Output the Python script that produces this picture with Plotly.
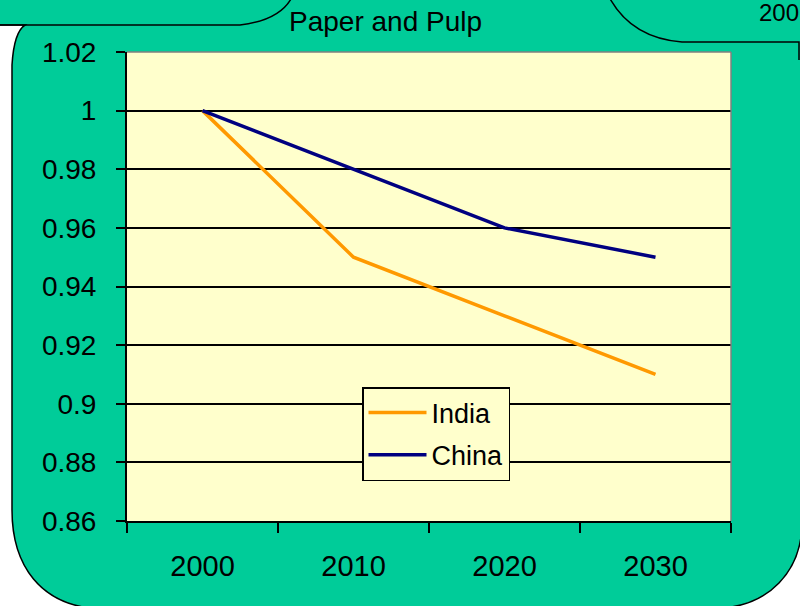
import plotly.graph_objects as go

years = ["2000", "2010", "2020", "2030"]
india = [1.0, 0.95, 0.93, 0.91]
china = [1.0, 0.98, 0.96, 0.95]
y_ticks = [0.86, 0.88, 0.90, 0.92, 0.94, 0.96, 0.98, 1.00, 1.02]
y_tick_text = ["0.86", "0.88", "0.9", "0.92", "0.94", "0.96", "0.98", "1", "1.02"]

W, H = 800, 606
L, R, T, B = 127, 731, 52, 521
PW, PH = R - L, B - T

def px(x):
    return (x - L) / PW

def py(y):
    return (B - y) / PH

def P(x, y):
    return f"{px(x):.5f},{py(y):.5f}"

TEAL = "#00CC99"
FONT = "Liberation Sans, Arial, sans-serif"

fig = go.Figure()
fig.add_trace(go.Scatter(x=years, y=india, mode="lines", name="India",
                         line=dict(color="#FF9900", width=3.5), legendgroup="a"))
fig.add_trace(go.Scatter(x=years, y=china, mode="lines", name="China",
                         line=dict(color="#000080", width=3.5), legendgroup="b"))

shapes = []
# top-left / left / bottom-left white region
path_left = (f"M {P(-10,25)} L {P(25,25)} Q {P(14,32)} {P(12,65)} L {P(12,510)} "
             f"C {P(12,565)} {P(40,606)} {P(100,609)} L {P(100,620)} L {P(-10,620)} Z")
shapes.append(dict(type="path", path=path_left, xref="paper", yref="paper",
                   fillcolor="white", line=dict(color="black", width=1.5), layer="below"))
# bottom-right white region
path_br = (f"M {P(802,522)} C {P(802,572)} {P(768,606)} {P(720,608)} "
           f"L {P(720,620)} L {P(815,620)} L {P(815,522)} Z")
shapes.append(dict(type="path", path=path_br, xref="paper", yref="paper",
                   fillcolor="white", line=dict(color="black", width=1.5), layer="below"))
# title tab outline
path_tab = f"M {P(-10,25)} L {P(240,25)} Q {P(282,20)} {P(293,-5)}"
shapes.append(dict(type="path", path=path_tab, xref="paper", yref="paper",
                   line=dict(color="black", width=1.5), layer="below"))
# neighbouring panel outline
path_nb = f"M {P(608,-5)} Q {P(630,38)} {P(682,42)} L {P(799,42)} L {P(799,60)}"
shapes.append(dict(type="path", path=path_nb, xref="paper", yref="paper",
                   line=dict(color="black", width=1.5), layer="below"))
# plot area border (top & right, gray)
shapes.append(dict(type="line", xref="paper", yref="paper", x0=0, x1=1, y0=1, y1=1,
                   line=dict(color="#808080", width=1.5), layer="above"))
shapes.append(dict(type="line", xref="paper", yref="paper", x0=1, x1=1, y0=0, y1=1,
                   line=dict(color="#808080", width=1.5), layer="above"))

fig.update_layout(
    width=W, height=H,
    margin=dict(l=L, r=W - R, t=T, b=H - B, pad=0),
    paper_bgcolor=TEAL,
    plot_bgcolor="#FFFFCC",
    font=dict(family=FONT, size=27, color="black"),
    showlegend=True,
    legend=dict(x=px(362), y=py(387), xanchor="left", yanchor="top",
                bgcolor="#FFFFCC", bordercolor="black", borderwidth=1.5,
                font=dict(size=27), tracegroupgap=4, itemwidth=58),
    shapes=shapes,
    annotations=[
        dict(text="Paper and Pulp", xref="paper", yref="paper", x=px(385), y=py(21),
             xanchor="center", yanchor="middle", showarrow=False,
             font=dict(size=28, family=FONT, color="black")),
        dict(text="200", xref="paper", yref="paper", x=px(757), y=py(12),
             xanchor="left", yanchor="middle", showarrow=False,
             font=dict(size=24, family=FONT, color="black")),
    ],
)

fig.update_xaxes(
    type="category", range=[-0.5, 3.5], tickson="boundaries",
    showgrid=False, zeroline=False,
    showline=True, linecolor="black", linewidth=2,
    ticks="outside", ticklen=10, tickwidth=1.5, tickcolor="black",
    ticklabelstandoff=18, tickfont=dict(size=29),
)
fig.update_yaxes(
    range=[0.86, 1.02], tickvals=y_ticks, ticktext=y_tick_text,
    showgrid=True, gridcolor="black", gridwidth=1.5, zeroline=False,
    showline=True, linecolor="black", linewidth=2,
    ticks="outside", ticklen=9, tickwidth=1.5, tickcolor="black",
    ticklabelstandoff=14, tickfont=dict(size=28),
)

fig.write_html("out.html", config={"displayModeBar": False},
               post_script="document.body.style.margin='0px';document.body.style.overflow='hidden';")
